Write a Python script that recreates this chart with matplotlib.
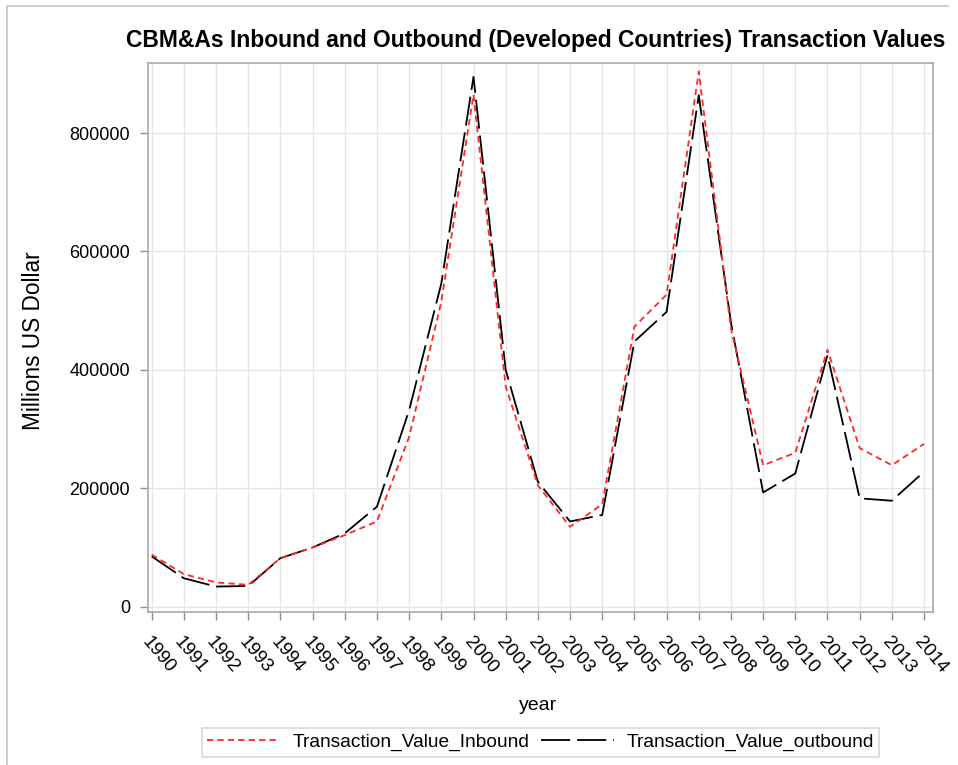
import matplotlib
matplotlib.use("Agg")
import matplotlib.pyplot as plt

years = list(range(1990, 2015))
inbound = [88000, 55000, 41000, 37000, 82000, 100000, 121000, 144000, 287000,
           515000, 865000, 372000, 205000, 135000, 173000, 473000, 527000,
           904000, 470000, 239000, 260000, 434000, 268000, 239000, 275000]
outbound = [85000, 48000, 34000, 35000, 82000, 100000, 124000, 169000, 332000,
            546000, 895000, 400000, 211000, 144000, 155000, 448000, 498000,
            864000, 480000, 193000, 225000, 425000, 183000, 179000, 228000]
yticks = [0, 200000, 400000, 600000, 800000]
title = "CBM&As Inbound and Outbound (Developed Countries) Transaction Values"
xlabel = "year"
ylabel = "Millions US Dollar"
labels = ["Transaction_Value_Inbound", "Transaction_Value_outbound"]

plt.rcParams["font.family"] = ["Liberation Sans", "DejaVu Sans"]
plt.rcParams["lines.scale_dashes"] = False

W, H = 958, 765
fig = plt.figure(figsize=(W / 100, H / 100), dpi=100)
fig.patch.set_facecolor("white")

# outer frame (left/top visible)
fig.add_artist(plt.Line2D([7 / W, 7 / W], [0, 1 - 6 / H], transform=fig.transFigure,
                          color="#d0d0d0", lw=1.5))
fig.add_artist(plt.Line2D([7 / W, 948 / W], [1 - 6 / H, 1 - 6 / H], transform=fig.transFigure,
                          color="#d0d0d0", lw=1.5))

L, R, T, B = 148.3, 932.7, 63.3, 611.7
ax = fig.add_axes([L / W, 1 - B / H, (R - L) / W, (B - T) / H])

ax.plot(years, outbound, color="black", lw=1.3, dashes=(21, 5),
        label=labels[1], zorder=3)
ax.plot(years, inbound, color="#ff2828", lw=1.3, dashes=(4.5, 3),
        label=labels[0], zorder=4)

ax.set_xlim(1989.894, 2014.27)
ax.set_ylim(-8450, 917900)
ax.set_xticks(years)
ax.set_xticklabels([str(y) for y in years], rotation=-50, ha="left", va="top",
                   rotation_mode="anchor", fontsize=13.5)
ax.set_yticks(yticks)
ax.set_yticklabels([str(v) for v in yticks], fontsize=13)
ax.grid(True, color="#e6e6e6", lw=1.0, zorder=0)
ax.set_axisbelow(True)
for s in ax.spines.values():
    s.set_color("#a6aaae")
    s.set_linewidth(1.2)
ax.tick_params(axis="both", direction="out", length=6, width=1.0, color="#8c9096")
ax.tick_params(axis="x", pad=10)
ax.tick_params(axis="y", pad=7)

fig.text(536 / W, 1 - 40 / H, title, ha="center", va="center",
         fontsize=16.5, fontweight="bold")
fig.text(538 / W, 1 - 705 / H, xlabel, ha="center", va="center", fontsize=14)
fig.text(34 / W, 1 - 341 / H, ylabel, ha="center", va="center", rotation=90,
         fontsize=16.3)

h, l = ax.get_legend_handles_labels()
order = [1, 0]
leg = fig.legend([h[i] for i in order], [l[i] for i in order], loc="center",
                 bbox_to_anchor=(540.5 / W, 1 - 742.5 / H), bbox_transform=fig.transFigure,
                 ncol=2, frameon=True, fancybox=False, fontsize=13.8,
                 handlelength=3.8, handletextpad=0.65, columnspacing=0.6,
                 borderpad=0.3, borderaxespad=0)
leg.get_frame().set_edgecolor("#d0d0d0")
leg.get_frame().set_linewidth(1.2)

fig.savefig("out.png", dpi=100, facecolor="white")
